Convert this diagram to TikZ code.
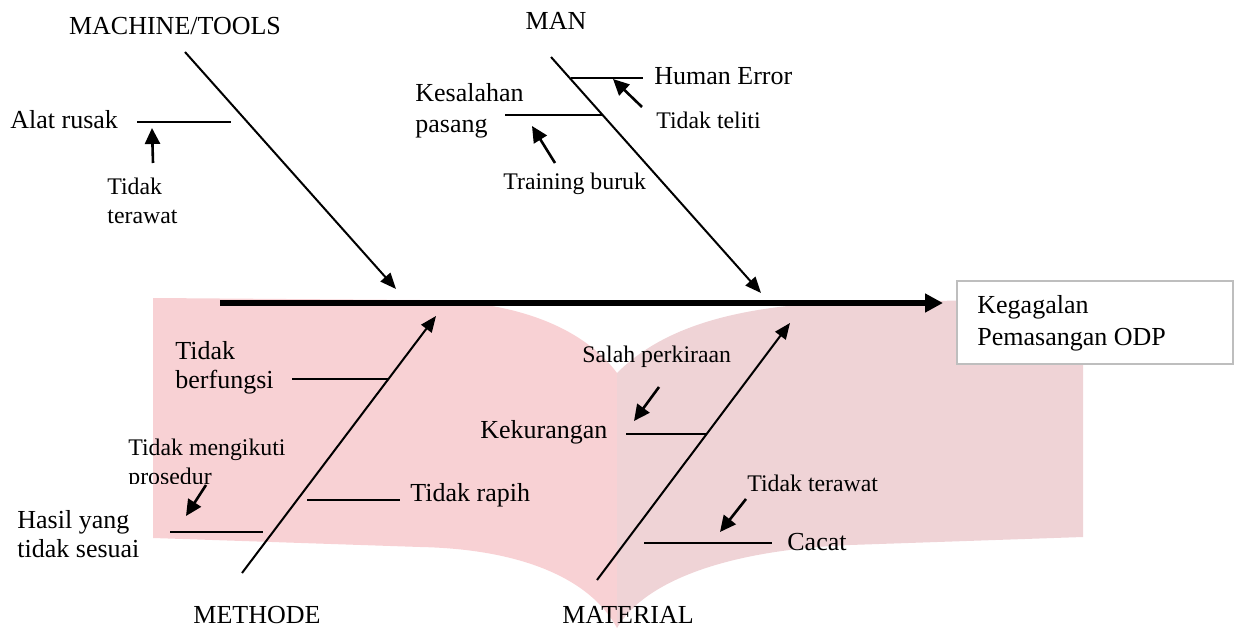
\documentclass[tikz,border=0pt]{standalone}
\usepackage{fontspec}
\setmainfont{Liberation Serif}
\usetikzlibrary{arrows.meta}
\definecolor{pageL}{RGB}{248,209,212}
\definecolor{pageR}{RGB}{239,211,214}
\definecolor{boxgray}{RGB}{190,190,190}
\begin{document}
\begin{tikzpicture}[x=0.5pt,y=-0.5pt,
  big/.style={font=\fontsize{13}{15}\selectfont, inner sep=0pt, anchor=base west},
  small/.style={font=\fontsize{11.9}{14}\selectfont, inner sep=0pt, anchor=base west},
  head/.style={font=\fontsize{13}{15}\selectfont, inner sep=0pt, anchor=base},
  bone/.style={line width=1pt, -{Triangle[length=8pt,width=6.5pt]}},
  subline/.style={line width=0.6pt},
  cause/.style={line width=1.3pt, -{Triangle[length=8pt,width=7.5pt]}},
  spine/.style={line width=3pt, -{Triangle[length=9pt,width=9pt]}},
  effectbox/.style={draw=boxgray, line width=0.8pt, fill=white, anchor=north west,
                    minimum width=138pt, minimum height=41.5pt, inner sep=0pt}]
\useasboundingbox (0,0) rectangle (1238,631);

% background book watermark
\fill[pageL] (153,298) -- (420,300) .. controls (520,300) and (585,330) .. (617,373)
  -- (617,628) .. controls (590,578) and (520,549) .. (420,547) -- (153,538) -- cycle;
\fill[pageR] (617,373) .. controls (660,330) and (730,305) .. (850,302) -- (1083,299)
  -- (1083,537) -- (850,545) .. controls (730,550) and (645,580) .. (617,628) -- cycle;

% coordinates
\coordinate (spL) at (220,303);
\coordinate (spR) at (943,303);
\coordinate (mt1) at (185,52);  \coordinate (mt2) at (396,289);
\coordinate (mn1) at (551,57);  \coordinate (mn2) at (761,293);
\coordinate (me1) at (242,573); \coordinate (me2) at (436,316);
\coordinate (ma1) at (597,580); \coordinate (ma2) at (790,323);

% effect box
\node[effectbox] (effect) at (956,280) {};
\node[big] (eff1) at (977,313) {Kegagalan};
\node[big] (eff2) at (977,345) {Pemasangan ODP};

% spine
\draw[spine] (spL) -- (spR);

% main bones
\draw[bone] (mt1) -- (mt2);
\draw[bone] (mn1) -- (mn2);
\draw[bone] (me1) -- (me2);
\draw[bone] (ma1) -- (ma2);

% category headings
\node[head] (hMachine) at (175,35) {MACHINE/TOOLS};
\node[head] (hMan) at (556,30) {MAN};
\node[head] (hMethode) at (257,623) {METHODE};
\node[head] (hMaterial) at (628,623) {MATERIAL};

% MACHINE/TOOLS
\node[big] (alat) at (10,129) {Alat rusak};
\coordinate (alatA) at (137,122); \coordinate (alatB) at (231,122);
\draw[subline] (alatA) -- (alatB);
\node[small] (tt1a) at (107,195) {Tidak};
\node[small] (tt1b) at (107,223) {terawat};
\coordinate (c1s) at (153,163); \coordinate (c1e) at (152,128);
\draw[cause] (c1s) -- (c1e);

% MAN
\node[big] (human) at (654,85) {Human Error};
\coordinate (humA) at (571,78); \coordinate (humB) at (643,78);
\draw[subline] (humA) -- (humB);
\node[small] (teliti) at (656,129) {Tidak teliti};
\coordinate (c2s) at (642,107); \coordinate (c2e) at (613,79);
\draw[cause] (c2s) -- (c2e);
\node[big] (kes1) at (415,102) {Kesalahan};
\node[big] (kes2) at (415,133) {pasang};
\coordinate (kesA) at (505,115); \coordinate (kesB) at (602,115);
\draw[subline] (kesA) -- (kesB);
\node[small] (train) at (503,190) {Training buruk};
\coordinate (c3s) at (555,163); \coordinate (c3e) at (532,126);
\draw[cause] (c3s) -- (c3e);

% METHODE
\node[big] (tb1) at (175,359) {Tidak};
\node[big] (tb2) at (175,388) {berfungsi};
\coordinate (tbA) at (292,379); \coordinate (tbB) at (388,379);
\draw[subline] (tbA) -- (tbB);
\coordinate (trA) at (307,500); \coordinate (trB) at (400,500);
\draw[subline] (trA) -- (trB);
\node[big] (rapih) at (410,501) {Tidak rapih};
\node[big] (has1) at (17,528) {Hasil yang};
\node[big] (has2) at (17,557) {tidak sesuai};
\coordinate (hasA) at (170,532); \coordinate (hasB) at (263,532);
\draw[subline] (hasA) -- (hasB);
\node[small] (pros1) at (128,455) {Tidak mengikuti};
\begin{scope}
  \clip (100,462) rectangle (320,483);
  \node[small] (pros2) at (128,484) {prosedur};
\end{scope}
\coordinate (c4s) at (206,485); \coordinate (c4e) at (186,516);
\draw[cause] (c4s) -- (c4e);

% MATERIAL
\node[small] (salah) at (582,362) {Salah perkiraan};
\coordinate (c5s) at (659,387); \coordinate (c5e) at (634,421);
\draw[cause] (c5s) -- (c5e);
\node[big] (kurang) at (480,438) {Kekurangan};
\coordinate (kurA) at (626,434); \coordinate (kurB) at (707,434);
\draw[subline] (kurA) -- (kurB);
\node[small] (tt2) at (747,491) {Tidak terawat};
\coordinate (c6s) at (746,499); \coordinate (c6e) at (720,532);
\draw[cause] (c6s) -- (c6e);
\coordinate (cacA) at (644,543); \coordinate (cacB) at (772,543);
\draw[subline] (cacA) -- (cacB);
\node[big] (cacat) at (787,550) {Cacat};

\end{tikzpicture}
\end{document}
